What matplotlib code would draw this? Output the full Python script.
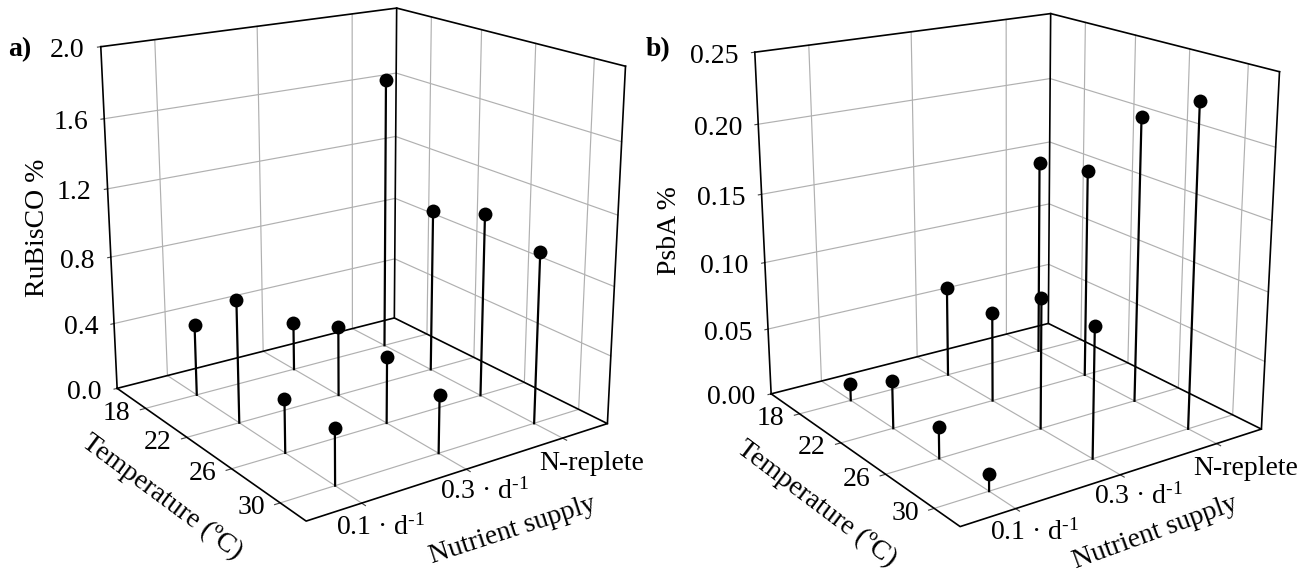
import matplotlib
matplotlib.use('Agg')
import matplotlib.pyplot as plt
from mpl_toolkits.mplot3d import proj3d

plt.rcParams['font.family'] = ['Liberation Serif', 'DejaVu Serif']
plt.rcParams['mathtext.default'] = 'regular'

temps = [18, 22, 26, 30]
supply = [1, 2, 3]
supply_labels = ['0.1 · d$^{\u20101}$', '0.3 · d$^{\u20101}$', 'N-replete']

# rows are temperature, columns are nutrient supply
rubisco = [[0.428, 0.291, 1.662],
           [0.717, 0.415, 0.984],
           [0.311, 0.389, 1.088],
           [0.319, 0.336, 0.992]]
psba = [[0.0124, 0.0682, 0.1492],
        [0.0352, 0.0664, 0.1569],
        [0.0224, 0.0957, 0.2085],
        [0.0123, 0.0940, 0.2308]]

rubisco_ticks = [0, 0.4, 0.8, 1.2, 1.6, 2.0]
psba_ticks = [0, 0.05, 0.10, 0.15, 0.20, 0.25]

# camera and box, shared by both panels
elev, azim, focal = 18.1765, -34.9799, 0.51
box = (0.9906, 0.9904, 1)
t0, t1 = 15.05, 32.0
n0, n1 = 0.502, 3.4945

W, H = 1307, 574
FS = 20
fig = plt.figure(figsize=(W/100, H/100), dpi=100)


def panel(pos, values, zticks, zfmt, ylabel, letter, lx, ly, tlab, nlab):
    zmax = zticks[-1]
    ax = fig.add_axes(pos, projection='3d')
    ax.computed_zorder = False
    ax.set_xlim(t0, t1)
    ax.set_ylim(n0, n1)
    ax.set_zlim(0, zmax)
    ax.view_init(elev, azim)
    ax.set_proj_type('persp', focal_length=focal)
    ax.set_box_aspect(box)
    ax.set_axis_off()

    grey = dict(color='#b0b0b0', lw=0.85, zorder=1)
    dark = dict(color='#444444', lw=0.8, zorder=2)
    for t in temps:
        ax.plot([t, t], [n0, n1], [0, 0], **grey)
        ax.plot([t, t], [n1, n1], [0, zmax], **grey)
        ax.plot([t, t], [n0-0.05, n0], [0, 0], **dark)
    for n in supply:
        ax.plot([t0, t1], [n, n], [0, 0], **grey)
        ax.plot([t0, t0], [n, n], [0, zmax], **grey)
        ax.plot([t1, t1+0.28], [n, n], [0, 0], **dark)
    for z in zticks[1:-1]:
        ax.plot([t0, t0, t1], [n0, n1, n1], [z, z, z], **grey)
    for z in zticks:
        ax.plot([t0, t0], [n0-0.03, n0], [z, z], **dark)

    black = dict(color='black', lw=1.2, zorder=3)
    ax.plot([t0, t0, t1, t1, t0], [n0, n1, n1, n0, n0], [0, 0, 0, 0, 0], **black)
    ax.plot([t0, t0, t1], [n0, n1, n1], [zmax, zmax, zmax], **black)
    ax.plot([t0, t0], [n0, n0], [0, zmax], **black)
    ax.plot([t0, t0], [n1, n1], [0, zmax], **black)
    ax.plot([t1, t1], [n1, n1], [0, zmax], **black)

    for i, t in enumerate(temps):
        for j, n in enumerate(supply):
            ax.plot([t, t], [n, n], [0, values[i][j]], color='black', lw=1.6, zorder=4)
            ax.scatter([t], [n], [values[i][j]], color='black', s=100,
                       depthshade=False, zorder=5, linewidths=0)

    M = ax.get_proj()

    def lab(x, y, z, s, dx, dy, ha):
        xs, ys, _ = proj3d.proj_transform(x, y, z, M)
        ax.annotate(s, (xs, ys), xytext=(dx, dy), textcoords='offset pixels',
                    fontsize=FS, va='center', ha=ha)

    for z in zticks:
        lab(t0, n0, z, zfmt % z, -16, -4, 'right')
    for t in temps:
        lab(t, n0, 0, str(t), -29, -5, 'center')
    offsets = [(19, -24), (18, -22), (29, -25)]
    for j, n in enumerate(supply):
        lab(t1, n, 0, supply_labels[j], offsets[j][0], offsets[j][1], 'center')

    fig.text(lx/W, 1-ly/H, letter, fontsize=FS, fontweight='bold', ha='center', va='center')
    fig.text(tlab[0]/W, 1-tlab[1]/H, 'Temperature (ºC)', fontsize=FS, rotation=tlab[2],
             ha='center', va='center', rotation_mode='anchor')
    fig.text(nlab[0]/W, 1-nlab[1]/H, 'Nutrient supply', fontsize=FS, rotation=nlab[2],
             ha='center', va='center', rotation_mode='anchor')
    fig.text(ylabel[1]/W, 1-ylabel[2]/H, ylabel[0], fontsize=FS, rotation=90, ha='center', va='center')


pos_a = [0.03153, 0.03853, 0.46948, 1.06900]
pos_b = [pos_a[0]+654/W, pos_a[1]-5.5/H, pos_a[2], pos_a[3]]

panel(pos_a, rubisco, rubisco_ticks, '%.1f', ('RuBisCO %', 37, 228), 'a)', 20, 50,
      (162, 497, -36.5), (513, 530, 18))
panel(pos_b, psba, psba_ticks, '%.2f', ('PsbA %', 670, 231), 'b)', 658, 50,
      (817, 504, -37), (1155, 533, 20))

fig.savefig('out.png', dpi=100)
